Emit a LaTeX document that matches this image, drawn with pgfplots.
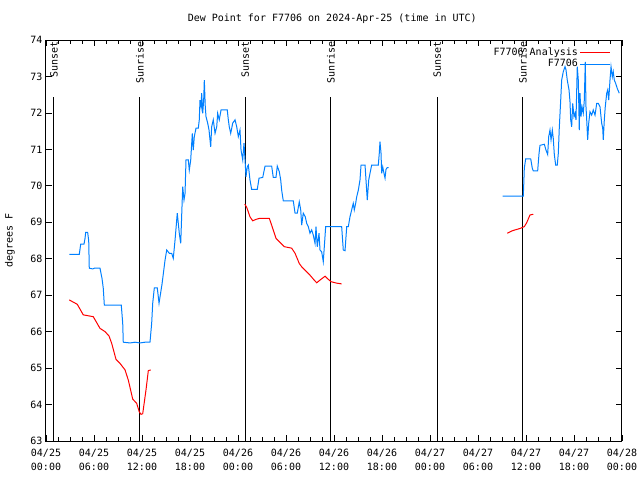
\documentclass[border=0pt]{standalone}
\usepackage{pgfplots}
\pgfplotsset{compat=1.18}
\usepackage{fontspec}
\setmainfont{DejaVu Sans Mono}
\definecolor{ublue}{RGB}{0,128,255}
\begin{document}
\fontsize{7.5}{10.5}\selectfont
\begin{tikzpicture}
\path[use as bounding box] (-34.5pt,-29.25pt) rectangle (445.5pt,330.75pt);
\begin{axis}[
  at={(0pt,0pt)}, anchor=south west,
  scale only axis, width=432pt, height=300.75pt,
  xmin=0, xmax=72, ymin=63, ymax=74,
  xtick={0,6,...,72},
  minor x tick num=3,
  ytick={63,...,74},
  xticklabels={{04/25\\00:00},{04/25\\06:00},{04/25\\12:00},{04/25\\18:00},{04/26\\00:00},{04/26\\06:00},{04/26\\12:00},{04/26\\18:00},{04/27\\00:00},{04/27\\06:00},{04/27\\12:00},{04/27\\18:00},{04/28\\00:00}},
  xticklabel style={align=center, font=\fontsize{7.5}{10}\selectfont, yshift=-3.5pt},
  yticklabel style={font=\fontsize{7.5}{10.5}\selectfont},
  /pgf/number format/assume math mode=true,
  tick align=inside,
  major tick length=4.5pt, minor tick length=3pt,
  axis line style={line width=0.75pt},
  tick style={line width=0.6pt, black},
  ylabel={degrees F},
  ylabel style={at={(axis description cs:-0.0625,0.5)}, anchor=center, font=\fontsize{7.5}{10.5}\selectfont},
  unbounded coords=jump,
  legend style={draw=none, fill=none, at={(axis description cs:0.987,0.993)}, anchor=north east, font=\fontsize{7.5}{9}\selectfont, nodes={inner sep=1.5pt}, row sep=-1pt},
  legend cell align=right,
  legend plot pos=right,
  legend image code/.code={\draw[#1] (3pt,0pt) -- (25pt,0pt);},
  clip=false,
]
% sunrise / sunset lines
\addplot[black, line width=0.75pt, forget plot] coordinates {(1.0,63) (1.0,72.44)};
\addplot[black, line width=0.75pt, forget plot] coordinates {(11.75,63) (11.75,72.44)};
\addplot[black, line width=0.75pt, forget plot] coordinates {(24.9,63) (24.9,72.44)};
\addplot[black, line width=0.75pt, forget plot] coordinates {(35.6,63) (35.6,72.44)};
\addplot[black, line width=0.75pt, forget plot] coordinates {(48.9,63) (48.9,72.44)};
\addplot[black, line width=0.75pt, forget plot] coordinates {(59.6,63) (59.6,72.44)};
\node[rotate=90, anchor=east, inner sep=1pt] at (axis cs:1.0,74) {Sunset};
\node[rotate=90, anchor=east, inner sep=1pt] at (axis cs:11.75,74) {Sunrise};
\node[rotate=90, anchor=east, inner sep=1pt] at (axis cs:24.9,74) {Sunset};
\node[rotate=90, anchor=east, inner sep=1pt] at (axis cs:35.6,74) {Sunrise};
\node[rotate=90, anchor=east, inner sep=1pt] at (axis cs:48.9,74) {Sunset};
\node[rotate=90, anchor=east, inner sep=1pt] at (axis cs:59.6,74) {Sunrise};
\node[anchor=center] at (axis description cs:0.497,1.052) {Dew Point for F7706 on 2024-Apr-25 (time in UTC)};
% analysis
\addplot[red, line width=0.75pt] coordinates {
(2.91,66.87) (3.91,66.75) (4.66,66.46) (5.41,66.43) (5.91,66.41) (6.75,66.09) (7.38,66.00) (7.88,65.88) (8.21,65.68) (8.75,65.24) (9.25,65.13) (9.88,64.95) (10.29,64.67) (10.84,64.15) (11.34,64.03) (11.66,63.80) (11.88,63.73) (12.09,63.75) (12.50,64.40) (12.79,64.93) (13.09,64.95)
(13.5,nan)
(24.84,69.50) (25.09,69.41) (25.5,69.15) (25.84,69.04) (26.25,69.08) (26.75,69.11) (27.91,69.11) (28.21,68.92) (28.75,68.56) (29.16,68.47) (29.79,68.33) (30.71,68.29) (31.13,68.15) (31.66,67.87) (31.96,67.78) (32.59,67.64) (33.0,67.55) (33.5,67.42) (33.84,67.34) (34.34,67.43) (34.88,67.52) (35.16,67.46) (35.63,67.37) (36.34,67.33) (36.96,67.31)
(40,nan)
(57.66,68.70) (58.21,68.76) (58.63,68.79) (59.25,68.83) (59.79,68.88) (60.09,68.99) (60.5,69.20) (60.91,69.22)
};
\addlegendentry{F7706 Analysis}
% observations
\addplot[ublue, line width=0.75pt] coordinates {
(2.91,68.12) (4.16,68.12) (4.34,68.40) (4.75,68.40) (4.88,68.56) (4.96,68.72) (5.21,68.72) (5.34,68.49) (5.41,67.74) (5.84,67.72) (6.04,67.74) (6.75,67.74) (7.0,67.46) (7.16,67.19) (7.29,66.73) (9.41,66.73) (9.59,66.23) (9.66,65.71) (10.5,65.69) (11.13,65.71) (11.75,65.69) (12.38,65.71) (13.0,65.71) (13.21,66.23) (13.34,66.78) (13.54,67.20) (13.91,67.20) (14.13,66.78) (14.5,67.3)
(14.88,67.96) (15.09,68.24) (15.41,68.15) (15.71,68.15) (15.91,68.01) (16.13,68.51) (16.41,69.25) (16.66,68.70) (16.84,68.42) (17.0,69.43) (17.09,69.98) (17.25,69.61) (17.38,69.79) (17.5,70.71) (17.79,70.71) (17.91,70.43) (18.09,70.71) (18.29,71.44) (18.41,70.98) (18.54,71.35) (18.75,71.58) (19.04,71.58) (19.16,71.81) (19.25,72.35) (19.38,72.17) (19.46,72.54) (19.59,71.99) (19.71,72.35) (19.79,72.90) (19.91,72.17) (20.0,71.90) (20.21,71.72) (20.38,71.53) (20.5,71.26) (20.59,71.07) (20.71,71.62) (20.91,71.81) (21.13,71.44) (21.34,71.62) (21.46,71.99) (21.66,71.81) (21.88,72.08) (22.66,72.08) (22.79,71.81) (22.91,71.62) (23.09,71.44) (23.34,71.72) (23.63,71.81) (23.84,71.62) (24.04,71.35) (24.25,71.53) (24.38,70.98) (24.59,70.71) (24.75,71.17) (24.88,70.71) (25.0,70.25) (25.16,70.52) (25.29,70.57) (25.5,70.16) (25.71,69.90) (26.41,69.90) (26.63,70.21) (27.09,70.23) (27.38,70.54) (28.21,70.54) (28.41,70.23) (28.75,70.23) (28.91,70.54) (29.16,70.39) (29.34,70.16) (29.46,69.88) (29.66,69.59) (30.91,69.59) (31.13,69.25) (31.41,69.25) (31.66,69.56) (31.84,69.34) (31.96,68.92) (32.16,69.25) (32.41,69.15) (32.59,68.97) (32.79,68.88) (33.0,68.70) (33.21,68.79) (33.41,68.65) (33.63,68.42) (33.75,68.88) (33.91,68.33) (34.13,68.70) (34.25,68.24) (34.46,68.19) (34.66,67.92) (34.79,68.33) (34.96,68.88) (35.71,68.88) (36.96,68.88) (37.16,68.24) (37.38,68.22) (37.59,68.88) (37.79,68.88) (38.0,69.15) (38.21,69.34) (38.41,69.52) (38.54,69.34) (38.71,69.52) (38.84,69.70) (39.04,69.88) (39.25,70.16) (39.38,70.57) (39.88,70.57) (40.0,70.16) (40.16,69.61) (40.34,70.16) (40.5,70.34) (40.71,70.57) (41.54,70.57) (41.66,70.89) (41.75,71.21) (41.88,70.89) (41.96,70.34) (42.09,70.52) (42.25,70.34) (42.38,70.21) (42.5,70.45) (42.66,70.50) (42.84,70.50)
(45,nan)
(57.09,69.72) (59.66,69.72) (59.71,69.98) (59.79,70.48) (59.96,70.74) (60.59,70.74) (60.79,70.48) (60.91,70.41) (61.46,70.41) (61.63,70.89) (61.75,71.11) (62.29,71.14) (62.5,70.98) (62.71,70.86) (62.84,71.35) (63.0,71.53) (63.13,71.26) (63.29,71.53) (63.41,71.30) (63.54,70.86) (63.71,70.57) (63.91,70.57) (64.04,70.89) (64.16,71.58) (64.34,72.35) (64.46,72.90) (64.66,73.13) (64.88,73.27) (65.0,73.18) (65.16,72.90) (65.38,72.63) (65.5,72.31) (65.59,71.81) (65.71,71.62) (65.84,72.26) (66.0,71.90) (66.13,71.99) (66.25,71.81) (66.41,73.27) (66.54,72.90) (66.66,71.53) (66.75,72.54) (66.88,71.90) (67.0,72.17) (67.16,71.99) (67.29,72.35) (67.41,73.40) (67.5,72.17) (67.59,71.81) (67.71,71.26) (67.84,71.72) (68.0,72.03) (68.21,71.94) (68.41,72.08) (68.63,71.94) (68.84,72.26) (69.04,72.26) (69.25,72.17) (69.46,71.72) (69.59,71.58) (69.66,71.26) (69.79,71.81) (69.91,72.17) (70.09,72.54) (70.21,72.63) (70.34,72.35) (70.5,72.90) (70.63,73.27) (70.79,72.99) (70.91,73.13) (71.04,72.90) (71.21,72.81) (71.41,72.67) (71.66,72.54)
};
\addlegendentry{F7706}
\end{axis}
\end{tikzpicture}
\end{document}
